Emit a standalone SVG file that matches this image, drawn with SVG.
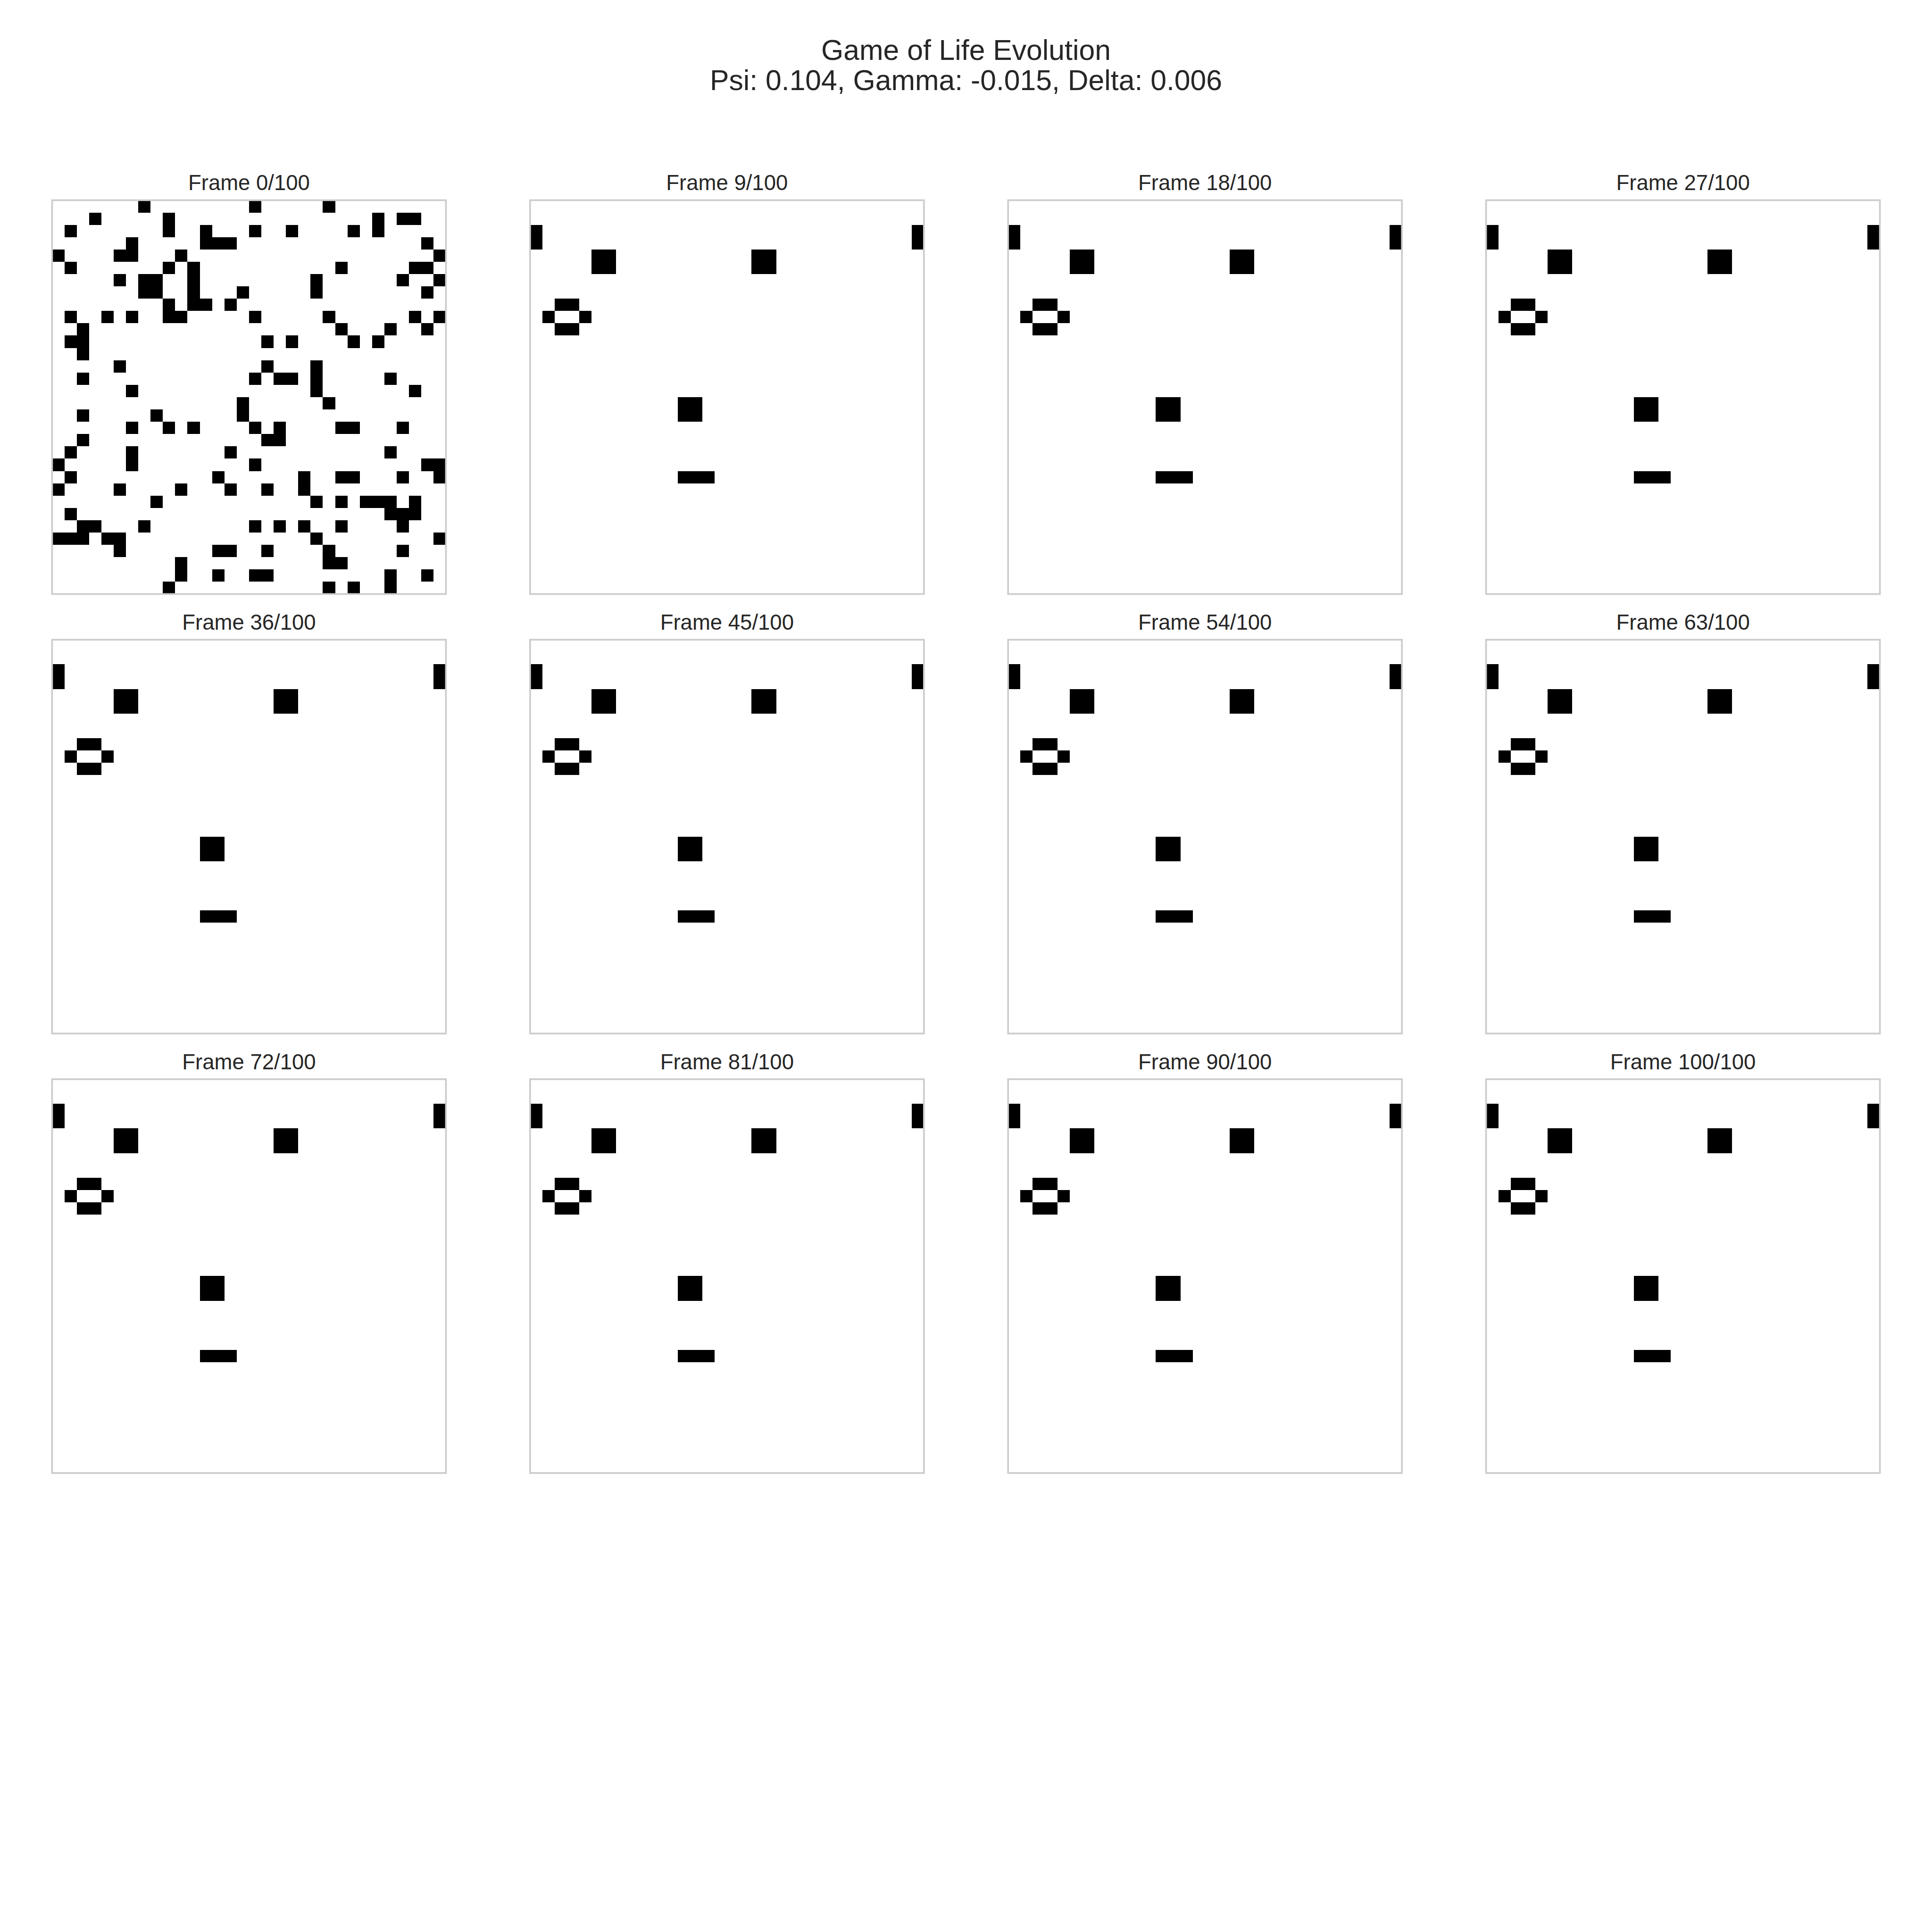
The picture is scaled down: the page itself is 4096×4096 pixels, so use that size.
<svg xmlns="http://www.w3.org/2000/svg" xmlns:xlink="http://www.w3.org/1999/xlink" width="4096" height="4096" viewBox="0 0 4096 4096">
<style>
.sup{font-family:"Liberation Sans",Arial,sans-serif;font-size:66.67px;fill:#262626;text-anchor:middle}
.ttl{font-family:"Liberation Sans",Arial,sans-serif;font-size:50px;fill:#262626;text-anchor:middle}
.cells{fill:#000;shape-rendering:crispEdges}
.frame{fill:none;stroke:#cccccc;stroke-width:4}
</style>
<defs>
<path id="stable" class="cells" d="M0 2h1v2h-1z M31 2h1v2h-1z M5 4h2v2h-2z M18 4h2v2h-2z M2 8h2v1h-2z M1 9h1v1h-1z M4 9h1v1h-1z M2 10h2v1h-2z M12 16h2v2h-2z M12 22h3v1h-3z"/>
<rect id="border" class="frame" x="0" y="0" width="917.33" height="917.33"/>
</defs>
<rect x="0" y="0" width="4096" height="4096" fill="#ffffff"/>
<g transform="scale(0.9102222)">
<g id="suptitle">
<text class="sup" x="2250" y="139.3">Game of Life Evolution</text>
<text class="sup" x="2250" y="210">Psi: 0.104, Gamma: -0.015, Delta: 0.006</text>
</g>
<g id="frame-0">
<text class="ttl" x="580" y="442.7">Frame 0/100</text>
<g transform="translate(121.33,466.33)">
<path class="cells" transform="scale(28.6667)" d="M7 0h1v1h-1z M16 0h1v1h-1z M22 0h1v1h-1z
M3 1h1v1h-1z M9 1h1v1h-1z M26 1h1v1h-1z M28 1h2v1h-2z
M1 2h1v1h-1z M9 2h1v1h-1z M12 2h1v1h-1z M16 2h1v1h-1z M19 2h1v1h-1z M24 2h1v1h-1z M26 2h1v1h-1z
M6 3h1v1h-1z M12 3h3v1h-3z M30 3h1v1h-1z
M0 4h1v1h-1z M5 4h2v1h-2z M10 4h1v1h-1z M31 4h1v1h-1z
M1 5h1v1h-1z M9 5h1v1h-1z M11 5h1v1h-1z M23 5h1v1h-1z M29 5h2v1h-2z
M5 6h1v1h-1z M7 6h2v1h-2z M11 6h1v1h-1z M21 6h1v1h-1z M28 6h1v1h-1z M31 6h1v1h-1z
M7 7h2v1h-2z M11 7h1v1h-1z M15 7h1v1h-1z M21 7h1v1h-1z M30 7h1v1h-1z
M9 8h1v1h-1z M11 8h2v1h-2z M14 8h1v1h-1z
M1 9h1v1h-1z M4 9h1v1h-1z M6 9h1v1h-1z M9 9h2v1h-2z M16 9h1v1h-1z M22 9h1v1h-1z M29 9h1v1h-1z M31 9h1v1h-1z
M2 10h1v1h-1z M23 10h1v1h-1z M27 10h1v1h-1z M30 10h1v1h-1z
M1 11h2v1h-2z M17 11h1v1h-1z M19 11h1v1h-1z M24 11h1v1h-1z M26 11h1v1h-1z
M2 12h1v1h-1z
M5 13h1v1h-1z M17 13h1v1h-1z M21 13h1v1h-1z
M2 14h1v1h-1z M16 14h1v1h-1z M18 14h2v1h-2z M21 14h1v1h-1z M27 14h1v1h-1z
M6 15h1v1h-1z M21 15h1v1h-1z M29 15h1v1h-1z
M15 16h1v1h-1z M22 16h1v1h-1z
M2 17h1v1h-1z M8 17h1v1h-1z M15 17h1v1h-1z
M6 18h1v1h-1z M9 18h1v1h-1z M11 18h1v1h-1z M16 18h1v1h-1z M18 18h1v1h-1z M23 18h2v1h-2z M28 18h1v1h-1z
M2 19h1v1h-1z M17 19h2v1h-2z
M1 20h1v1h-1z M6 20h1v1h-1z M14 20h1v1h-1z M27 20h1v1h-1z
M0 21h1v1h-1z M6 21h1v1h-1z M16 21h1v1h-1z M30 21h2v1h-2z
M1 22h1v1h-1z M13 22h1v1h-1z M20 22h1v1h-1z M23 22h2v1h-2z M28 22h1v1h-1z M31 22h1v1h-1z
M0 23h1v1h-1z M5 23h1v1h-1z M10 23h1v1h-1z M14 23h1v1h-1z M17 23h1v1h-1z M20 23h1v1h-1z
M8 24h1v1h-1z M21 24h1v1h-1z M23 24h1v1h-1z M25 24h3v1h-3z M29 24h1v1h-1z
M1 25h1v1h-1z M27 25h3v1h-3z
M2 26h2v1h-2z M7 26h1v1h-1z M16 26h1v1h-1z M18 26h1v1h-1z M20 26h1v1h-1z M23 26h1v1h-1z M28 26h1v1h-1z
M0 27h3v1h-3z M4 27h2v1h-2z M21 27h1v1h-1z M31 27h1v1h-1z
M5 28h1v1h-1z M13 28h2v1h-2z M17 28h1v1h-1z M22 28h1v1h-1z M28 28h1v1h-1z
M10 29h1v1h-1z M22 29h2v1h-2z
M10 30h1v1h-1z M13 30h1v1h-1z M16 30h2v1h-2z M27 30h1v1h-1z M30 30h1v1h-1z
M9 31h1v1h-1z M22 31h1v1h-1z M24 31h1v1h-1z M27 31h1v1h-1z"/>
<use xlink:href="#border" href="#border"/>
</g>
</g>
<g id="frame-9">
<text class="ttl" x="1693.33" y="442.7">Frame 9/100</text>
<g transform="translate(1234.67,466.33)"><use href="#stable" xlink:href="#stable" transform="scale(28.6667)"/><use href="#border" xlink:href="#border"/></g>
</g>
<g id="frame-18">
<text class="ttl" x="2806.67" y="442.7">Frame 18/100</text>
<g transform="translate(2348,466.33)"><use href="#stable" xlink:href="#stable" transform="scale(28.6667)"/><use href="#border" xlink:href="#border"/></g>
</g>
<g id="frame-27">
<text class="ttl" x="3920" y="442.7">Frame 27/100</text>
<g transform="translate(3461.33,466.33)"><use href="#stable" xlink:href="#stable" transform="scale(28.6667)"/><use href="#border" xlink:href="#border"/></g>
</g>
<g id="frame-36">
<text class="ttl" x="580" y="1466.4">Frame 36/100</text>
<g transform="translate(121.33,1490)"><use href="#stable" xlink:href="#stable" transform="scale(28.6667)"/><use href="#border" xlink:href="#border"/></g>
</g>
<g id="frame-45">
<text class="ttl" x="1693.33" y="1466.4">Frame 45/100</text>
<g transform="translate(1234.67,1490)"><use href="#stable" xlink:href="#stable" transform="scale(28.6667)"/><use href="#border" xlink:href="#border"/></g>
</g>
<g id="frame-54">
<text class="ttl" x="2806.67" y="1466.4">Frame 54/100</text>
<g transform="translate(2348,1490)"><use href="#stable" xlink:href="#stable" transform="scale(28.6667)"/><use href="#border" xlink:href="#border"/></g>
</g>
<g id="frame-63">
<text class="ttl" x="3920" y="1466.4">Frame 63/100</text>
<g transform="translate(3461.33,1490)"><use href="#stable" xlink:href="#stable" transform="scale(28.6667)"/><use href="#border" xlink:href="#border"/></g>
</g>
<g id="frame-72">
<text class="ttl" x="580" y="2490.1">Frame 72/100</text>
<g transform="translate(121.33,2513.67)"><use href="#stable" xlink:href="#stable" transform="scale(28.6667)"/><use href="#border" xlink:href="#border"/></g>
</g>
<g id="frame-81">
<text class="ttl" x="1693.33" y="2490.1">Frame 81/100</text>
<g transform="translate(1234.67,2513.67)"><use href="#stable" xlink:href="#stable" transform="scale(28.6667)"/><use href="#border" xlink:href="#border"/></g>
</g>
<g id="frame-90">
<text class="ttl" x="2806.67" y="2490.1">Frame 90/100</text>
<g transform="translate(2348,2513.67)"><use href="#stable" xlink:href="#stable" transform="scale(28.6667)"/><use href="#border" xlink:href="#border"/></g>
</g>
<g id="frame-100">
<text class="ttl" x="3920" y="2490.1">Frame 100/100</text>
<g transform="translate(3461.33,2513.67)"><use href="#stable" xlink:href="#stable" transform="scale(28.6667)"/><use href="#border" xlink:href="#border"/></g>
</g>
<g id="connectors"/>
</g>
</svg>
